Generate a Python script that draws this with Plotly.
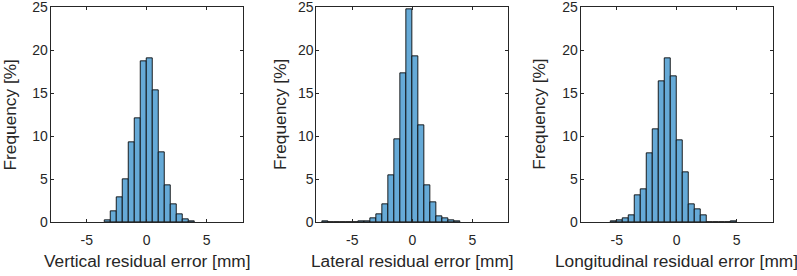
import plotly.graph_objects as go

# ---------------- data ----------------
bin_width = 0.5

vert_edges = [-3.5, -3.0, -2.5, -2.0, -1.5, -1.0, -0.5, 0.0, 0.5, 1.0, 1.5, 2.0, 2.5, 3.0, 3.5]
vert_freq = [0.25, 1.24, 2.87, 5.0, 9.3, 12.1, 18.75, 19.1, 15.35, 8.14, 4.3, 2.05, 0.93, 0.37, 0.12]

lat_edges = [-7.5, -7.0, -6.5, -6.0, -5.5, -5.0, -4.5, -4.0, -3.5, -3.0, -2.5, -2.0,
             -1.5, -1.0, -0.5, 0.0, 0.5, 1.0, 1.5, 2.0, 2.5, 3.0, 3.5]
lat_freq = [0.12, 0.0, 0.0, 0.0, 0.0, 0.0, 0.12, 0.15, 0.46, 0.95, 2.05, 5.5,
            9.7, 17.3, 24.8, 19.35, 11.3, 4.3, 2.3, 0.7, 0.46, 0.2, 0.1]

lon_edges = [-5.5, -5.0, -4.5, -4.0, -3.5, -3.0, -2.5, -2.0, -1.5, -1.0, -0.5, 0.0,
             0.5, 1.0, 1.5, 2.0, 2.5, 3.0, 3.5, 4.0, 4.5]
lon_freq = [0.1, 0.23, 0.5, 0.85, 3.14, 3.83, 7.98, 10.8, 16.4, 19.07, 16.97, 9.57,
            5.8, 2.08, 1.5, 0.77, 0.05, 0.05, 0.05, 0.03, 0.12]

x_titles = ["Vertical residual error [mm]", "Lateral residual error [mm]",
            "Longitudinal residual error [mm]"]
y_title = "Frequency [%]"

x_tickvals = [-5, 0, 5]
x_ticktext = ["-5", "0", "5"]
y_tickvals = [0, 5, 10, 15, 20, 25]
y_ticktext = ["0", "5", "10", "15", "20", "25"]

# ---------------- styling ----------------
W, H = 797, 276
FONT = "Liberation Sans, Arial, Helvetica, sans-serif"
AX = "#262626"
FILL = "#66AAD7"

# axes pixel boxes (left, right) and (top, bottom)
x_boxes = [(50.7, 242.7), (316.3, 508.3), (580.7, 772.7)]
y_top, y_bot = 7.3, 222.3
ytitle_x = [9.7, 279.3, 539.0]

fig = go.Figure()
series = [(vert_edges, vert_freq), (lat_edges, lat_freq), (lon_edges, lon_freq)]
for i, (edges, freq) in enumerate(series):
    sfx = "" if i == 0 else str(i + 1)
    fig.add_trace(go.Bar(
        x=edges, y=freq, offset=0, width=bin_width,
        marker=dict(color=FILL, line=dict(color="#0a0a0a", width=0.9)),
        xaxis="x" + sfx, yaxis="y" + sfx, showlegend=False,
    ))

layout = dict(
    template="none",
    width=W, height=H, margin=dict(l=0, r=0, t=0, b=0, autoexpand=False),
    plot_bgcolor="white", paper_bgcolor="white",
    font=dict(family=FONT, color=AX), bargap=0,
    annotations=[],
)
for i in range(3):
    sfx = "" if i == 0 else str(i + 1)
    l, r = x_boxes[i]
    common = dict(showline=True, linecolor=AX, linewidth=1, mirror="ticks",
                  ticks="inside", ticklen=3, tickcolor=AX, tickwidth=1,
                  showgrid=False, zeroline=False, fixedrange=True,
                  automargin=False, ticklabeloverflow="allow",
                  tickfont=dict(family=FONT, size=14, color=AX))
    layout["xaxis" + sfx] = dict(
        domain=[l / W, r / W], range=[-8, 8], anchor="y" + sfx,
        tickvals=x_tickvals, ticktext=x_ticktext, ticklabelstandoff=5, **common)
    layout["yaxis" + sfx] = dict(
        domain=[1 - y_bot / H, 1 - y_top / H], range=[0, 25], anchor="x" + sfx,
        tickvals=y_tickvals, ticktext=y_ticktext, ticklabelstandoff=-1, **common)
    layout["annotations"].append(dict(
        text=x_titles[i], xref="paper", yref="paper", x=(l + r) / 2 / W,
        y=1 - 261 / H, xanchor="center", yanchor="middle", showarrow=False,
        font=dict(family=FONT, size=17.3, color=AX)))
    layout["annotations"].append(dict(
        text=y_title, xref="paper", yref="paper", x=ytitle_x[i] / W,
        y=1 - (y_top + y_bot) / 2 / H, xanchor="center", yanchor="middle",
        textangle=-90, showarrow=False,
        font=dict(family=FONT, size=17.3, color=AX)))

fig.update_layout(**layout)
fig.write_html("out.html", config={"displayModeBar": False},
               post_script="document.body.style.margin='0';document.body.style.overflow='hidden';")
